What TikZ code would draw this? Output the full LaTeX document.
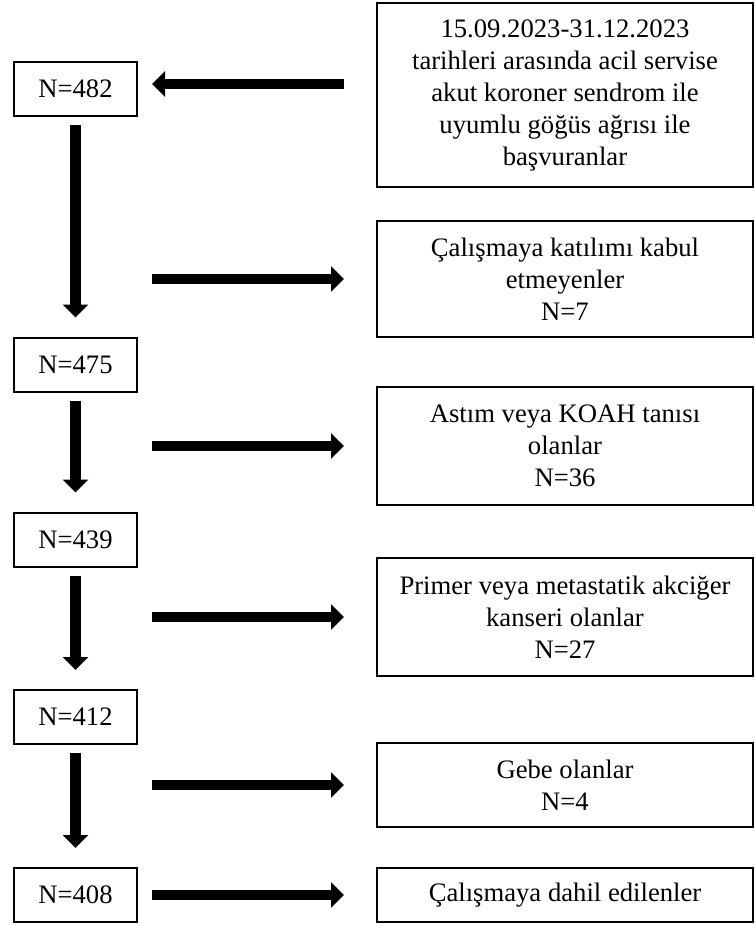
\documentclass[tikz,border=0pt]{standalone}
\usepackage{fontspec}
\setmainfont{Liberation Serif}
\usetikzlibrary{arrows.meta}

\begin{document}
\begin{tikzpicture}[x=0.75pt, y=-0.75pt,
        countbox/.style = {draw,
            line width=1.5pt,
            minimum width=92.25pt,
            minimum height=40.5pt,
            inner sep=0pt,
            font=\fontsize{20}{24}\selectfont},
        infobox/.style = {draw,
            line width=1.5pt,
            minimum width=282pt,
            inner sep=0pt,
            align=center,
            font=\fontsize{20}{24}\selectfont},
        flow/.style = {line width=7.9pt,
            -{Triangle[width=18.75pt, length=9.75pt]}}]

        \useasboundingbox (0,0) rectangle (755,926);

        % Left column
        \node[countbox] (n482) at (75.5,88.5) {N=482};
        \node[countbox] (n475) at (75.5,364.5) {N=475};
        \node[countbox] (n439) at (75.5,539.5) {N=439};
        \node[countbox] (n412) at (75.5,717) {N=412};
        \node[countbox] (n408) at (75.5,895) {N=408};

        % Right column
        \node[infobox, minimum height=138pt] (src) at (565,95)
            {15.09.2023-31.12.2023\\tarihleri arasında acil servise\\akut koroner sendrom ile\\uyumlu göğüs ağrısı ile\\başvuranlar};
        \node[infobox, minimum height=87pt] (ex1) at (565,279)
            {Çalışmaya katılımı kabul\\etmeyenler\\N=7};
        \node[infobox, minimum height=88.5pt] (ex2) at (565,446)
            {Astım veya KOAH tanısı\\olanlar\\N=36};
        \node[infobox, minimum height=88.5pt] (ex3) at (565,617)
            {Primer veya metastatik akciğer\\kanseri olanlar\\N=27};
        \node[infobox, minimum height=63pt] (ex4) at (565,785)
            {Gebe olanlar\\N=4};
        \node[infobox, minimum height=40.5pt] (incl) at (565,895)
            {Çalışmaya dahil edilenler};

        % Arrows
        \draw[flow, shorten <=24pt, shorten >=10.5pt] ([yshift=3.4pt]n482 -| src.west) -- ([yshift=3.4pt]n482.east);
        \draw[flow, shorten <=6pt, shorten >=14.25pt] (n482.south) -- (n475.north);
        \draw[flow, shorten <=6pt, shorten >=14.25pt] (n475.south) -- (n439.north);
        \draw[flow, shorten <=6pt, shorten >=14.25pt] (n439.south) -- (n412.north);
        \draw[flow, shorten <=6pt, shorten >=14.25pt] (n412.south) -- (n408.north);
        \draw[flow, shorten <=10.5pt, shorten >=24pt] (n482.east |- ex1) -- (ex1.west);
        \draw[flow, shorten <=10.5pt, shorten >=24pt] (n482.east |- ex2) -- (ex2.west);
        \draw[flow, shorten <=10.5pt, shorten >=24pt] (n482.east |- ex3) -- (ex3.west);
        \draw[flow, shorten <=10.5pt, shorten >=24pt] (n482.east |- ex4) -- (ex4.west);
        \draw[flow, shorten <=10.5pt, shorten >=24pt] (n408.east) -- (incl.west);
    \end{tikzpicture}
\end{document}
